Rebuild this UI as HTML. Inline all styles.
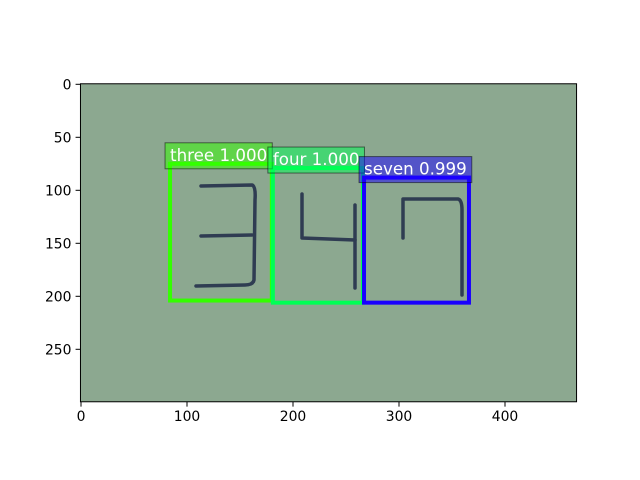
<!DOCTYPE html>
<html><head><meta charset="utf-8"><style>
body{margin:0;background:#fff;}
svg{display:block;font-family:"DejaVu Sans","Liberation Sans",sans-serif;}
</style></head><body>
<svg id="chart" width="640" height="480" viewBox="0 0 640 480"></svg>
<script>
const labels = ["three 1.000", "four 1.000", "seven 0.999"];
const boxX1 = [84, 181, 267];
const boxY1 = [75, 79, 88];
const boxX2 = [180, 266, 366];
const boxY2 = [204, 206, 206];
const boxColors = ["#33ff00", "#00ff55", "#1a00ff"];
const xTicks = [0, 100, 200, 300, 400];
const yTicks = [0, 50, 100, 150, 200, 250];
const imgW = 468, imgH = 300;

const NS = "http://www.w3.org/2000/svg";
const svg = document.getElementById("chart");
const k = 1.06, x0 = 81, y0 = 84.3;
const X = v => x0 + v * k;
const Y = v => y0 + v * k;
function mk(tag, attrs, parent) {
  const e = document.createElementNS(NS, tag);
  for (const a in attrs) e.setAttribute(a, attrs[a]);
  (parent || svg).appendChild(e);
  return e;
}
const img = mk("rect", {x: X(-0.5), y: Y(-0.5), width: imgW * k, height: imgH * k, fill: "#8ca890"});


const dg = mk("g", {stroke: "#1f2a48", "stroke-width": 3.5, fill: "none", "stroke-linecap": "round", "stroke-linejoin": "round", opacity: 0.85});


["M201 186 L252 185 Q256 186 255 200 L254 280 Q253 285 245 285 L196 286",
 "M201 236 L252 235",
 "M302 194 L302 238 L355 240",
 "M355 205 L355 288",
 "M403 238 L403 199 L458 199 Q462 200 462 210 L462 295"].forEach(d => mk("path", {d}, dg));
labels.forEach((lab, i) => {
  const g = mk("g", {});
  
  
  const r = mk("rect", {x: X(boxX1[i]), y: Y(boxY1[i]), width: (boxX2[i] - boxX1[i]) * k, height: (boxY2[i] - boxY1[i]) * k, fill: "none", stroke: boxColors[i], "stroke-width": 4}, g);
  
  
});
labels.forEach((lab, i) => {
  const tx = X(boxX1[i]), ty = Y(boxY1[i]) - 3;
  const t = mk("text", {x: tx, y: ty, fill: "#fff", "font-size": 16.7});
  t.textContent = lab;
  
  
  const w = t.getComputedTextLength();
  const bg = mk("rect", {x: tx - 5, y: ty - 18, width: w + 10, height: 26, fill: boxColors[i], "fill-opacity": 0.5, stroke: "#000", "stroke-opacity": 0.5, "stroke-width": 1});
  
  
  svg.insertBefore(bg, t);
});
const fr = mk("rect", {x: X(-0.5), y: Y(-0.5), width: imgW * k, height: imgH * k, fill: "none", stroke: "#000", "stroke-width": 1});


const bottom = Y(imgH - 0.5), left = X(-0.5);
xTicks.forEach(v => {
  const l = mk("line", {x1: X(v), x2: X(v), y1: bottom, y2: bottom + 4.9, stroke: "#000"});
  
  
  const t = mk("text", {x: X(v), y: bottom + 19, "text-anchor": "middle", "font-size": 13.9, fill: "#000"});
  t.textContent = v;
  
  
});
yTicks.forEach(v => {
  const l = mk("line", {x1: left - 4.9, x2: left, y1: Y(v), y2: Y(v), stroke: "#000"});
  
  
  const t = mk("text", {x: left - 9, y: Y(v) + 5, "text-anchor": "end", "font-size": 13.9, fill: "#000"});
  t.textContent = v;
  
  
});
</script>
</body></html>
